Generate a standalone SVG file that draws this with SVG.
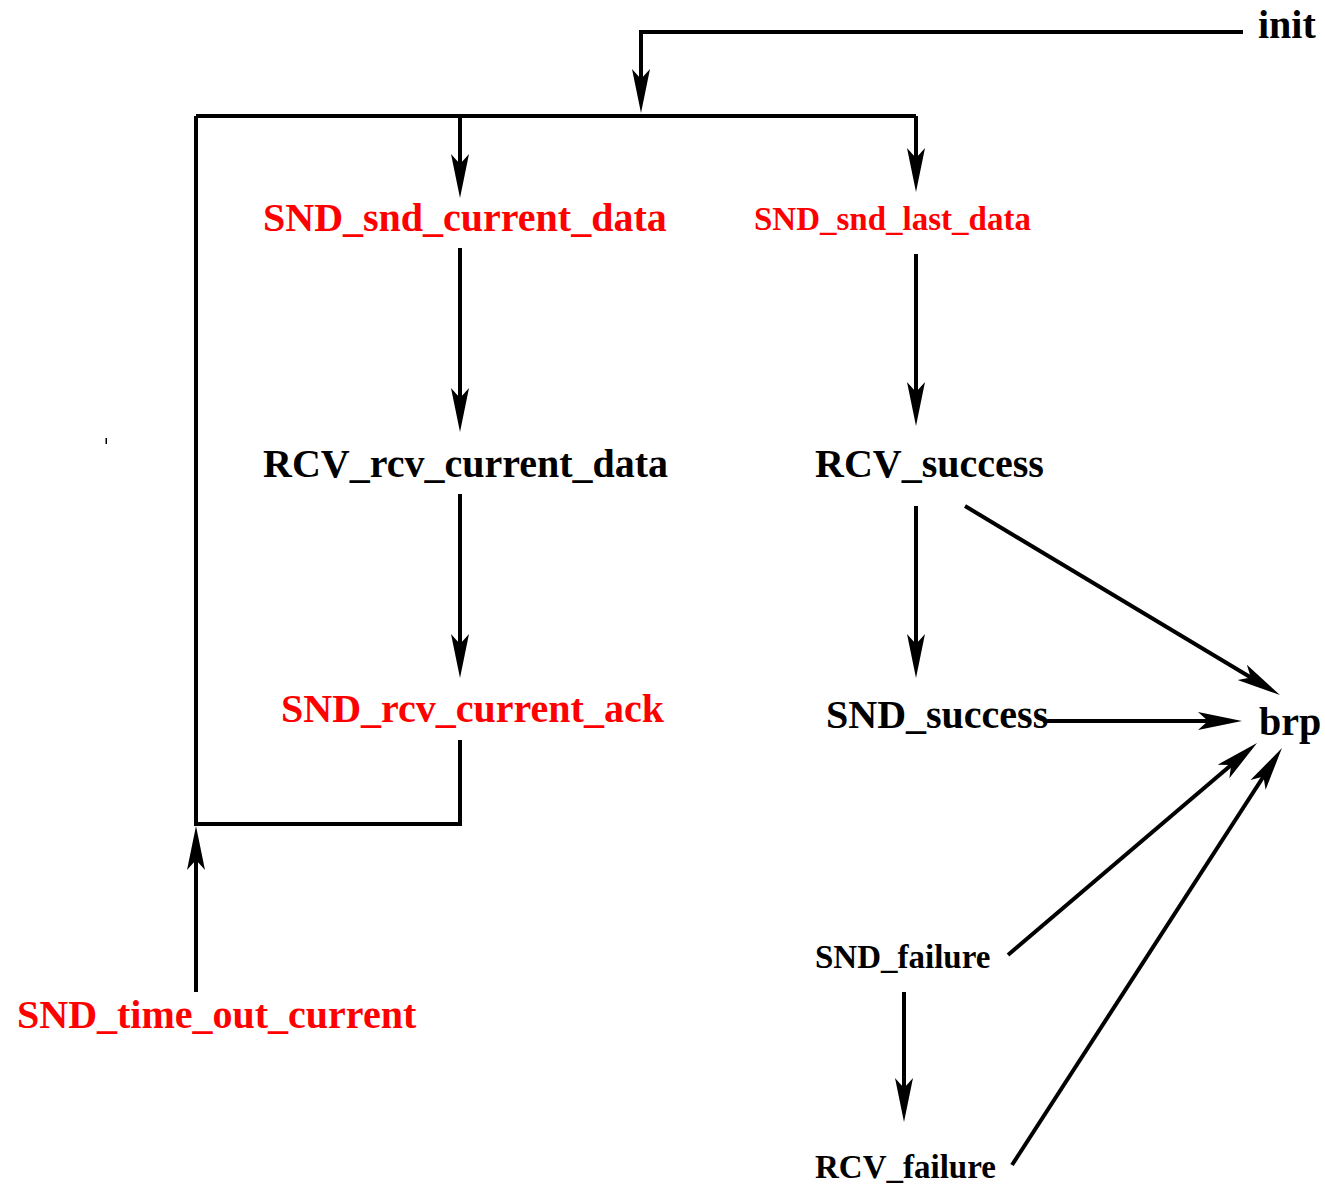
<svg xmlns="http://www.w3.org/2000/svg" width="1325" height="1184" viewBox="0 0 1325 1184">
<style>
text{font-family:"Liberation Serif","Times New Roman",serif;font-weight:bold;}
.big{font-size:40px;}
.small{font-size:33px;}
.red{fill:#ff0000;}
.blk{fill:#000;}
.edge{fill:none;stroke:#000;stroke-width:4;}
.arr{marker-end:url(#ah);}
</style>
<defs>
<marker id="ah" markerUnits="userSpaceOnUse" markerWidth="46" markerHeight="20" viewBox="0 0 46 20" refX="29" refY="10" orient="auto">
<path d="M44,10 L0,1 L10,10 L0,19 Z" fill="#000"/>
</marker>
</defs>
<rect width="1325" height="1184" fill="#fff"/>
<g id="connectors">
<path class="edge arr" d="M1243,32 H641 V98"/>
<path class="edge" d="M196,116 H916"/>
<path class="edge arr" d="M460,116 V183"/>
<path class="edge arr" d="M916,116 V177"/>
<path class="edge" d="M196,116 V824 H460 V740"/>
<path class="edge arr" d="M196,992 V841"/>
<path class="edge arr" d="M460,248 V417"/>
<path class="edge arr" d="M460,494 V663"/>
<path class="edge arr" d="M916,254 V411"/>
<path class="edge arr" d="M916,506 V663"/>
<path class="edge arr" d="M965,506 L1267.1,687.3"/>
<path class="edge arr" d="M1043,721 H1227"/>
<path class="edge arr" d="M1008,955 L1245.6,752.7"/>
<path class="edge arr" d="M1012,1165 L1273.8,760.6"/>
<path class="edge arr" d="M904,992 V1107"/>
<rect x="105.5" y="438" width="1.5" height="6" fill="#000"/>
</g>
<g id="init"><text class="big blk" x="1258" y="38">init</text></g>
<g id="SND_snd_current_data"><text class="big red" x="263" y="231">SND_snd_current_data</text></g>
<g id="SND_snd_last_data"><text class="small red" x="754" y="230">SND_snd_last_data</text></g>
<g id="RCV_rcv_current_data"><text class="big blk" x="263" y="477">RCV_rcv_current_data</text></g>
<g id="RCV_success"><text class="big blk" x="815" y="477">RCV_success</text></g>
<g id="SND_rcv_current_ack"><text class="big red" x="281" y="722">SND_rcv_current_ack</text></g>
<g id="SND_success"><text class="big blk" x="826" y="728">SND_success</text></g>
<g id="brp"><text class="big blk" x="1259" y="735">brp</text></g>
<g id="SND_failure"><text class="small blk" x="815" y="968">SND_failure</text></g>
<g id="RCV_failure"><text class="small blk" x="815" y="1178">RCV_failure</text></g>
<g id="SND_time_out_current"><text class="big red" x="17" y="1028">SND_time_out_current</text></g>
</svg>
